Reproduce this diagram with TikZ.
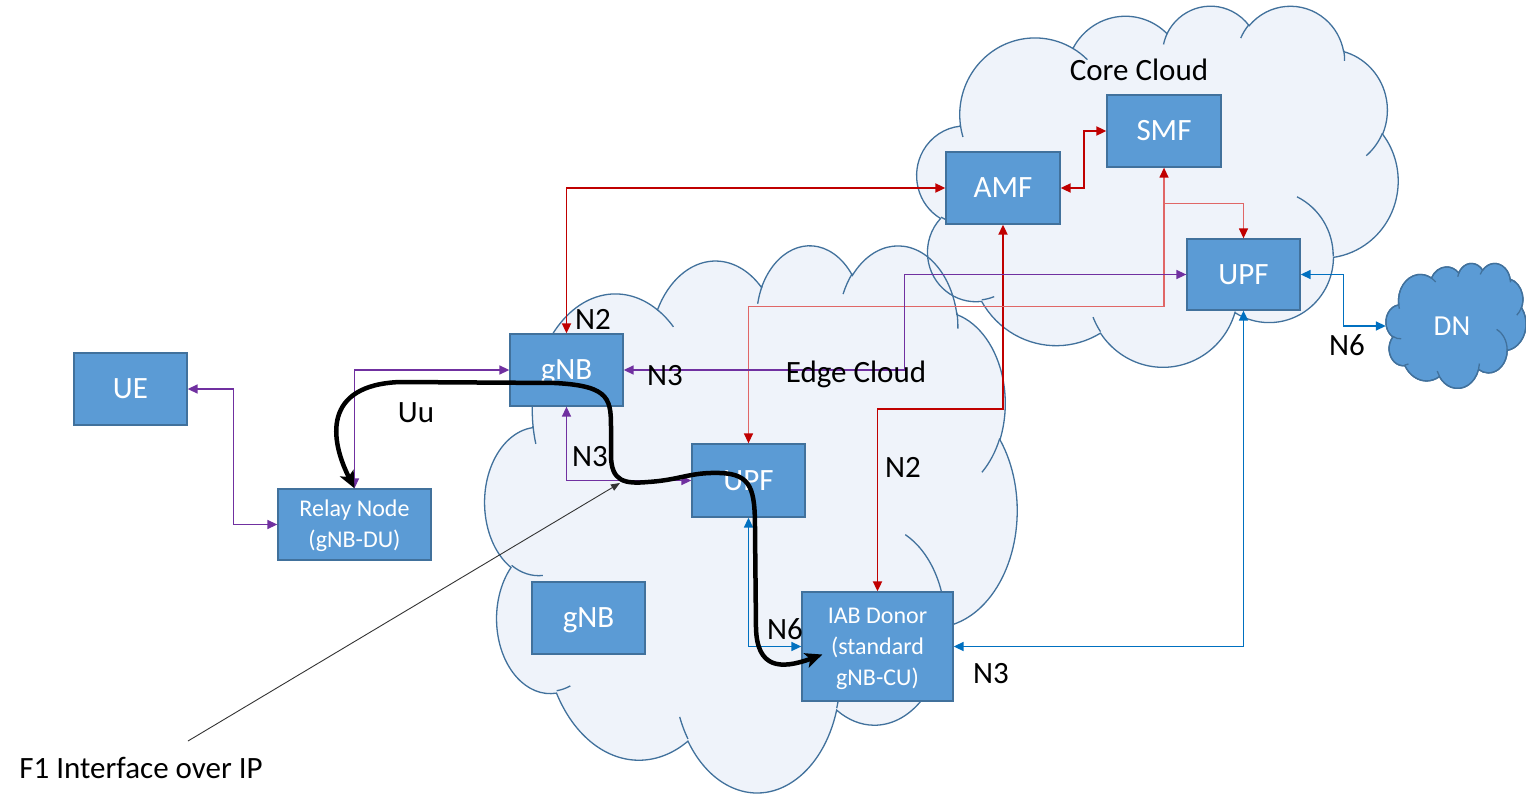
\documentclass[tikz,border=0pt]{standalone}
\usepackage{fontspec}
\setmainfont{Carlito}
\usetikzlibrary{arrows.meta,calc}
\definecolor{boxfill}{HTML}{5B9BD5}
\definecolor{boxline}{HTML}{41719C}
\definecolor{cloudfill}{HTML}{EFF3FA}
\definecolor{cloudline}{HTML}{41719C}
\definecolor{dred}{HTML}{C00000}
\definecolor{lred}{HTML}{E06666}
\definecolor{purp}{HTML}{7030A0}
\definecolor{oblue}{HTML}{0070C0}
% DrawingML-style elliptical arc (visual angles) -> TikZ parametric arc
\newcommand\ooarcdef[5]{%
  \pgfmathsetmacro\ooTa{atan2((#2)*sin(#4),(#3)*cos(#4))}%
  \pgfmathsetmacro\ooTb{atan2((#2)*sin((#4)+(#5)),(#3)*cos((#4)+(#5)))}%
  \pgfmathsetmacro\ooTb{(\ooTb<\ooTa) ? \ooTb+360 : \ooTb}%
  \expandafter\xdef\csname ooarc#1\endcsname{arc[start angle=\ooTa, end angle=\ooTb, x radius=#2, y radius=#3]}%
}
\ooarcdef{A}{67.53}{91.90}{-190.4875}{123.7805}
\ooarcdef{B}{53.33}{72.67}{-144.1024}{89.9452}
\ooarcdef{C}{43.65}{59.45}{-145.8079}{99.7230}
\ooarcdef{D}{48.57}{65.95}{-130.9861}{117.2417}
\ooarcdef{E}{53.33}{72.73}{-78.7089}{109.0269}
\ooarcdef{F}{67.75}{92.20}{-46.2673}{130.2690}
\ooarcdef{G}{57.85}{78.67}{0.6250}{114.0333}
\ooarcdef{H}{67.52}{92.15}{22.4516}{115.1726}
\ooarcdef{I}{77.20}{105.43}{66.2426}{75.7110}
\ooarcdef{J}{43.60}{59.18}{-274.9421}{146.7356}
\ooarcdef{K}{43.45}{59.45}{-246.8285}{152.5189}
\ooarcdef{Ca}{43.45}{59.45}{86.7420}{26.4295}
\ooarcdef{Cb}{43.60}{59.18}{73.6105}{11.4475}
\ooarcdef{Cc}{67.52}{92.15}{137.6242}{14.0811}
\ooarcdef{Cd}{67.52}{92.15}{6.4533}{15.9984}
\ooarcdef{Ce}{57.85}{78.67}{-70.2924}{70.9174}
\ooarcdef{Cf}{53.33}{72.73}{30.3180}{27.7515}
\ooarcdef{Cg}{48.57}{65.95}{-13.7443}{14.8589}
\ooarcdef{Ch}{48.57}{65.95}{-149.1815}{18.1954}
\ooarcdef{Ci}{43.65}{59.45}{-163.4943}{17.6864}
\ooarcdef{Cj}{67.53}{91.90}{-66.7069}{12.3194}
\ooarcdef{Ck}{67.53}{91.90}{157.6544}{11.8582}
\newcommand\ooCloudPath{(39,143.7) \ooarcA \ooarcB \ooarcC \ooarcD \ooarcE \ooarcF \ooarcG \ooarcH \ooarcI \ooarcJ \ooarcK -- cycle}
\newcommand\ooCreasePath{(46.93,261.77) \ooarcCa (69.28,348.99) \ooarcCb (164.78,390.90) \ooarcCc (288.27,347.51) \ooarcCd (341.29,229.54) \ooarcCe (417.98,153.54) \ooarcCf (383.24,54.26) \ooarcCg (290.78,39.52) \ooarcCh (221.41,47.20) \ooarcCi (140.00,51.92) \ooarcCj (41.27,157.89) \ooarcCk}
\newcommand\ooCloudFill[5]{\begin{scope}[shift={(#1,#2)},xscale=#3/432,yscale=#4/432]\path[#5] \ooCloudPath;\end{scope}}
\newcommand\ooCloudLine[5]{\begin{scope}[shift={(#1,#2)},xscale=#3/432,yscale=#4/432]\path[#5] \ooCloudPath; \path[#5] \ooCreasePath;\end{scope}}
\begin{document}
\begin{tikzpicture}[x=1pt,y=1pt,yscale=-1,
  box/.style={draw=boxline, fill=boxfill, line width=1.3pt, text=white, inner sep=0pt,
    font=\fontsize{31}{37}\selectfont, text height=19.6pt, text depth=0pt},
  mbox/.style={draw=boxline, fill=boxfill, line width=1.3pt, text=white, inner sep=0pt,
    font=\fontsize{24}{31}\selectfont, align=center},
  lbl/.style={font=\fontsize{31}{37}\selectfont, anchor=base, inner sep=0pt},
  >={Triangle[length=10pt,width=9pt]},
  dredc/.style={draw=dred, line width=1.8pt},
  lredc/.style={draw=lred, line width=1.4pt, >={Triangle[length=10pt,width=9pt,color=dred]}},
  purpc/.style={draw=purp, line width=1.5pt},
  bluec/.style={draw=oblue, line width=1.6pt},
  f1path/.style={draw=black, line width=4.5pt,
    arrows={Stealth[length=17pt,width=15pt,inset=4pt]-Stealth[length=17pt,width=15pt,inset=4pt]}},
  annot/.style={draw=black!80, line width=0.9pt, -{Triangle[length=9pt,width=7pt]}},
  cloudfillst/.style={fill=cloudfill},
  cloudlinest/.style={draw=cloudline, line width=1.3pt},
  dnst/.style={fill=boxfill, draw=boxline, line width=1.3pt}
]
\useasboundingbox (0,0) rectangle (1526,795);
\fill[white] (0,0) rectangle (1526,795);
% clouds
\ooCloudFill{917}{5}{481}{361}{cloudfillst}
\ooCloudFill{485}{244}{532}{547}{cloudfillst}
\ooCloudLine{917}{5}{481}{361}{cloudlinest}
\ooCloudLine{485}{244}{532}{547}{cloudlinest}
\ooCloudFill{1386}{263}{140}{125}{dnst}
\ooCloudLine{1386}{263}{140}{125}{draw=boxline, line width=1.3pt}
% boxes
\node[box, minimum width=113pt, minimum height=72pt] (UE) at (130.5,389) {UE};
\node[mbox, minimum width=153pt, minimum height=71pt] (Relay) at (354.5,524.5) {\rule{0pt}{20pt}Relay Node\\(gNB-DU)};
\node[box, minimum width=113pt, minimum height=72pt] (gNBa) at (566.5,370) {gNB};
\node[box, minimum width=113pt, minimum height=73pt] (UPFe) at (748.5,480.5) {UPF};
\node[box, minimum width=113pt, minimum height=72pt] (gNBb) at (588.5,618) {gNB};
\node[mbox, minimum width=151pt, minimum height=109pt] (IAB) at (877.5,646.5) {\rule{0pt}{21pt}IAB Donor\\(standard\\gNB-CU)};
\node[box, minimum width=114pt, minimum height=72pt] (AMF) at (1003,188) {AMF};
\node[box, minimum width=114pt, minimum height=72pt] (SMF) at (1164,131) {SMF};
\node[box, minimum width=113pt, minimum height=71pt] (UPFc) at (1243.5,274.5) {UPF};
\node[text=white, font=\fontsize{29}{35}\selectfont, minimum width=132pt, minimum height=125pt, inner sep=0pt, text height=18.5pt, text depth=0pt] (DN) at (1452,326) {DN};
% red connectors
\draw[dredc,<->] (gNBa.north) |- (AMF.west);
\draw[dredc,<->] (AMF.east) -- ++(23,0) |- (SMF.west);
\draw[dredc,<->] (AMF.south) -- ++(0,184) -| (IAB.north);
\draw[lredc,<->] (SMF.south) -- ++(0,139) -| (UPFe.north);
\draw[lredc,->] (SMF.south) ++(0,36) -| (UPFc.north);
% purple connectors
\draw[purpc,<->] (UE.east) -- ++(46,0) |- (Relay.west);
\draw[purpc,<->] (Relay.north) |- (gNBa.west);
\draw[purpc,<->] (UPFc.west) -- ++(-282,0) |- (gNBa.east);
\draw[purpc,<->] (gNBa.south) |- (UPFe.west);
% blue connectors
\draw[bluec,<->] (UPFe.south) |- (IAB.west);
\draw[bluec,<->] (IAB.east) -| (UPFc.south);
\draw[bluec,<->] (UPFc.east) -- ++(43,0) |- (DN.west);
% F1 path
\draw[f1path] (Relay.north) .. controls (330,440) and (322,385) .. (400,382)
  -- (555,383) .. controls (612,386) and (611,400) .. (611,432)
  -- (611,455) .. controls (611,482) and (625,484) .. (648,482)
  .. controls (680,480) and (690,472) .. (720,473)
  .. controls (752,474) and (755,490) .. (755,530)
  -- (756,628) .. controls (757,668) and (780,670) .. ($(IAB.west)+(21,8)$);
% annotation
\coordinate (f1s) at (188,741);
\coordinate (f1e) at (620,483);
\draw[annot] (f1s) -- (f1e);
% labels
\node[lbl] (lcore) at (1139,80) {Core Cloud};
\node[lbl] (ledge) at (856,382) {Edge Cloud};
\node[lbl] (ln2a) at (593,329) {N2};
\node[lbl] (ln3a) at (665,385) {N3};
\node[lbl] (ln3b) at (590,466) {N3};
\node[lbl] (luu) at (416,422) {Uu};
\node[lbl] (ln2b) at (903,477) {N2};
\node[lbl] (ln6a) at (785,639) {N6};
\node[lbl] (ln3c) at (991,683) {N3};
\node[lbl] (ln6b) at (1347,355) {N6};
\node[lbl, font=\fontsize{31}{37}\selectfont] (F1) at (141,778) {F1 Interface over IP};
\end{tikzpicture}
\end{document}
